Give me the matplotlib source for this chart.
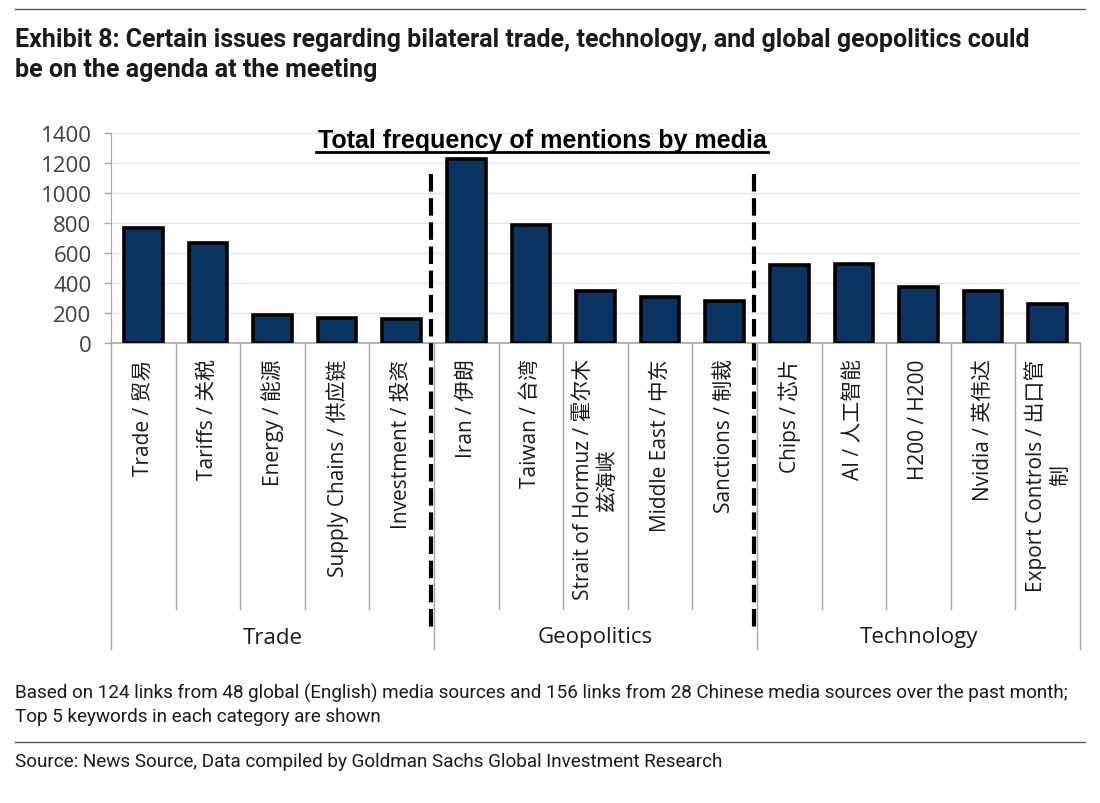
import matplotlib
matplotlib.use("Agg")
import matplotlib.pyplot as plt
from matplotlib import transforms
import numpy as np

# ---- data ----
keywords = [
    "Trade / 贸易", "Tariffs / 关税", "Energy / 能源", "Supply Chains / 供应链", "Investment / 投资",
    "Iran / 伊朗", "Taiwan / 台湾", "Strait of Hormuz / 霍尔木\n兹海峡", "Middle East / 中东", "Sanctions / 制裁",
    "Chips / 芯片", "AI / 人工智能", "H200 / H200", "Nvidia / 英伟达", "Export Controls / 出口管\n制",
]
mentions = [765, 670, 190, 167, 160, 1228, 790, 345, 305, 278, 518, 530, 375, 350, 262]
groups = ["Trade", "Geopolitics", "Technology"]
group_sizes = [5, 5, 5]
yticks = [0, 200, 400, 600, 800, 1000, 1200, 1400]

NAVY = "#0C3462"
INK = "#1A1A1A"
GRAY = "#A6A6A6"
GRID = "#E6E6E6"
RULE = "#595959"

plt.rcParams["font.family"] = ["Open Sans", "Noto Sans CJK SC", "DejaVu Sans"]
CJK = ["Open Sans", "Noto Sans CJK SC", "DejaVu Sans"]

fig = plt.figure(figsize=(11, 8.04), dpi=100)
W, H = 1100, 804
ax = fig.add_axes([111 / W, 1 - 344 / H, (1080 - 111) / W, (344 - 134) / H])

x = np.arange(len(mentions))
ax.bar(x, mentions, width=0.6, color=NAVY, edgecolor="black", linewidth=2.6, zorder=3)

ax.set_xlim(-0.5, len(mentions) - 0.5)
ax.set_ylim(0, 1400)
ax.set_yticks(yticks)
ax.set_yticklabels([str(v) for v in yticks], fontsize=16, color="#404040")
ax.yaxis.grid(True, color=GRID, linewidth=1.0, zorder=0)
ax.tick_params(axis="y", length=5, color=GRAY, width=1, pad=9)
for s in ["top", "right"]:
    ax.spines[s].set_visible(False)
ax.spines["left"].set_color(GRAY)
ax.spines["bottom"].set_color(GRAY)
ax.spines["bottom"].set_linewidth(1.2)

ax.set_xticks(x)
ax.set_xticklabels(keywords, rotation=90, fontsize=15, family=CJK,
                   va="top", ha="center", multialignment="center", color=INK)
ax.tick_params(axis="x", length=0, pad=11)

blend = transforms.blended_transform_factory(ax.transData, ax.transAxes)
bounds = np.cumsum([0] + group_sizes) - 0.5
# category separators
for b in np.arange(-0.5, len(mentions)):
    if b in bounds:
        continue
    ax.plot([b, b], [0, -1.267], transform=blend, color=GRAY, lw=1, clip_on=False)
for b in bounds:
    ax.plot([b, b], [0, -1.457], transform=blend, color=GRAY, lw=1, clip_on=False)
# group labels
for g, lo, hi in zip(groups, bounds[:-1], bounds[1:]):
    ax.text((lo + hi) / 2, -1.40, g, transform=blend, ha="center", va="center",
            fontsize=16, color=INK)
# dashed dividers between groups
for b in bounds[1:-1]:
    ax.plot([b - 0.05, b - 0.05], [0.805, -1.36], transform=blend, color="black",
            lw=3, ls=(0, (4.2, 1.6)), clip_on=False, zorder=5)

# inner chart title, underlined
ax.text(0.5 * (316 + 768) / W, 1 - 141 / H, "Total frequency of mentions by media",
        transform=fig.transFigure, ha="center", va="center", fontsize=18,
        fontweight="bold", family="Liberation Sans", color="black")
fig.lines.append(plt.Line2D([316 / W, 768 / W], [1 - 153 / H, 1 - 153 / H],
                            transform=fig.transFigure, color="black", lw=2))

# header / footer
fig.lines.append(plt.Line2D([15 / W, 1085 / W], [1 - 10 / H, 1 - 10 / H],
                            transform=fig.transFigure, color=RULE, lw=1))
fig.text(15 / W, 1 - 40 / H, "Exhibit 8: Certain issues regarding bilateral trade, technology, and global geopolitics could",
         ha="left", va="center", fontsize=18, fontweight="bold", family="Roboto", color=INK)
fig.text(15 / W, 1 - 70 / H, "be on the agenda at the meeting",
         ha="left", va="center", fontsize=18, fontweight="bold", family="Roboto", color=INK)

fig.text(15 / W, 1 - 693 / H,
         "Based on 124 links from 48 global (English) media sources and 156 links from 28 Chinese media sources over the past month;",
         ha="left", va="center", fontsize=13.6, family="Roboto", color=INK)
fig.text(15 / W, 1 - 717 / H, "Top 5 keywords in each category are shown",
         ha="left", va="center", fontsize=13.6, family="Roboto", color=INK)
fig.lines.append(plt.Line2D([15 / W, 1085 / W], [1 - 743 / H, 1 - 743 / H],
                            transform=fig.transFigure, color=RULE, lw=1))
fig.text(15 / W, 1 - 762 / H, "Source: News Source, Data compiled by Goldman Sachs Global Investment Research",
         ha="left", va="center", fontsize=13.6, family="Roboto", color=INK)

fig.savefig("out.png", dpi=100)
